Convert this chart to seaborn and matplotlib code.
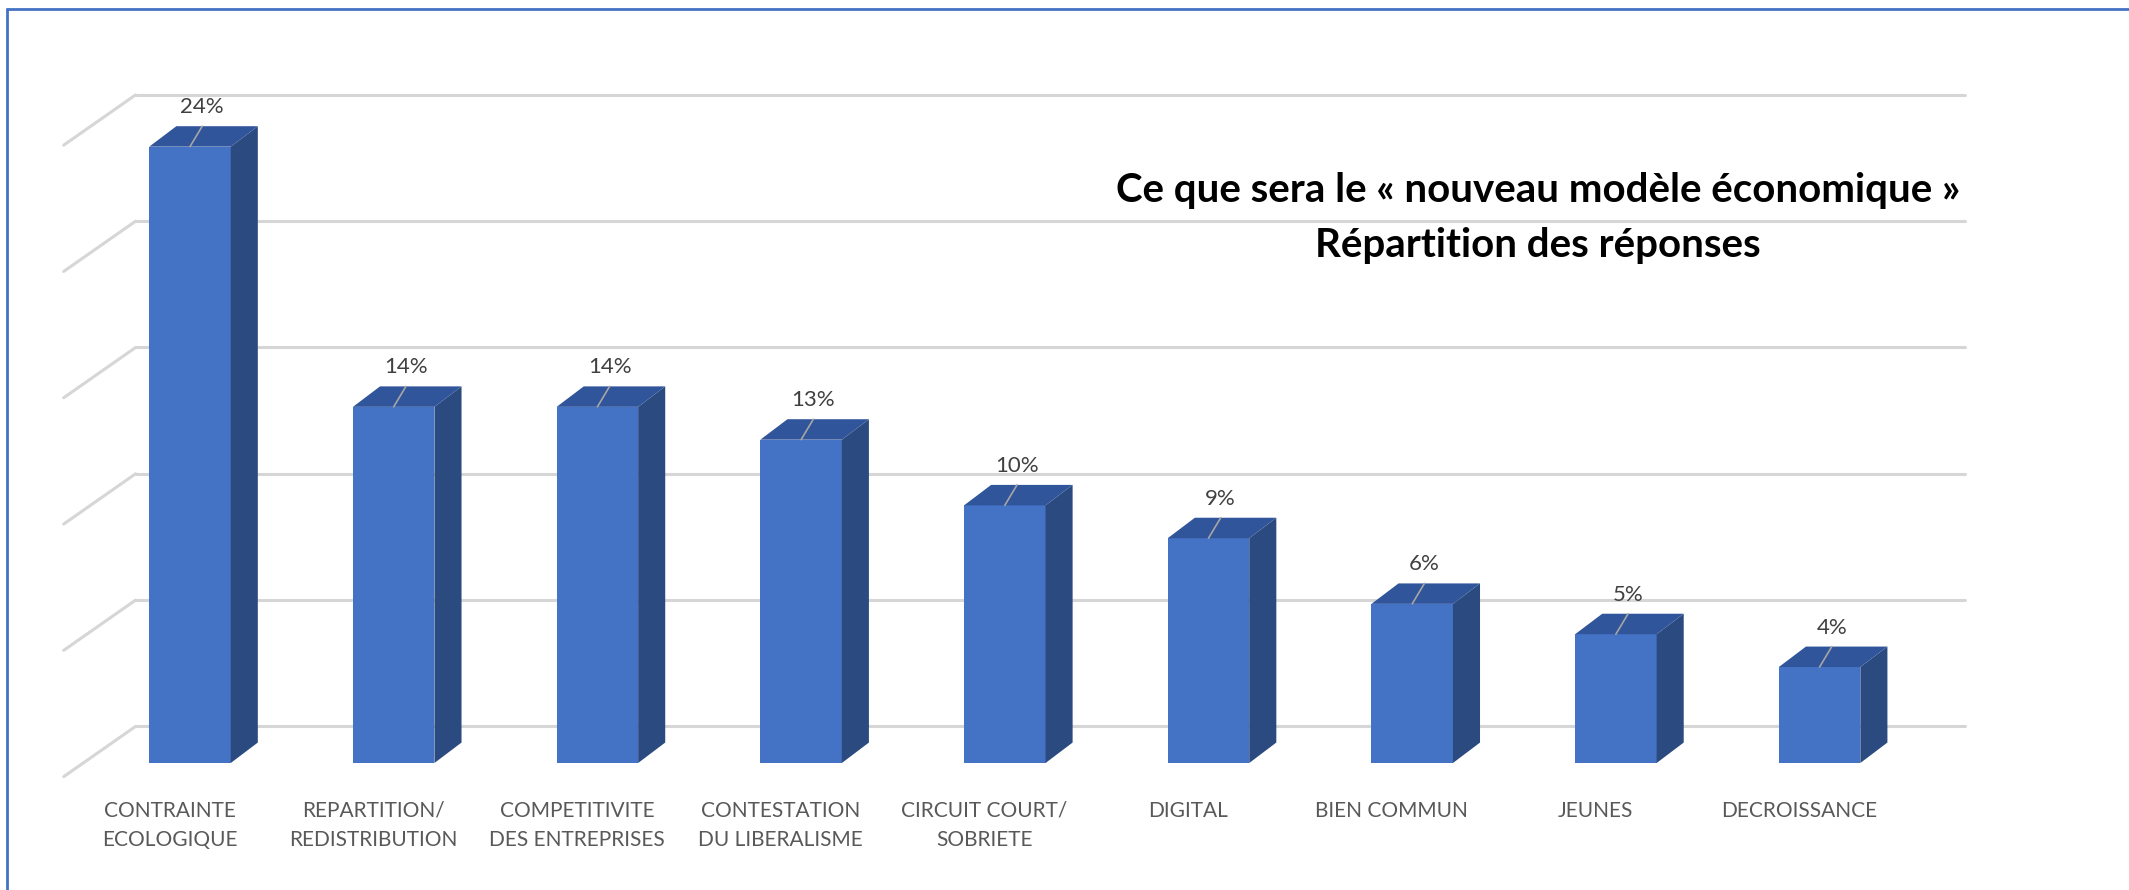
import matplotlib
matplotlib.use("Agg")
import matplotlib.pyplot as plt
from matplotlib.patches import Polygon
from matplotlib.lines import Line2D
import pandas as pd
import seaborn as sns

# data
categories = [
    "CONTRAINTE\nECOLOGIQUE", "REPARTITION/\nREDISTRIBUTION",
    "COMPETITIVITE\nDES ENTREPRISES", "CONTESTATION\nDU LIBERALISME",
    "CIRCUIT COURT/\nSOBRIETE", "DIGITAL", "BIEN COMMUN", "JEUNES", "DECROISSANCE",
]
values = [24.4, 14.1, 14.1, 12.8, 10.2, 8.9, 6.3, 5.1, 3.8]
value_labels = ["24%", "14%", "14%", "13%", "10%", "9%", "6%", "5%", "4%"]
grid_levels = [0, 5, 10, 15, 20, 25]
title_lines = ["Ce que sera le « nouveau modèle économique »", "Répartition des réponses"]

FRONT = "#4472C4"
SIDE = "#2B4A80"
TOP = "#30559A"
GRID = "#D6D6D6"

# fake-3D geometry (category units / percent units)
BAR_W = 0.4
DX, DY = 0.133, 0.81          # bar depth
WALL_X, WALL_DY = -0.267, 1.45  # back wall
FLOOR_X, FLOOR_DY = -0.62, -0.54
WALL_END = 8.713
LABEL_SHIFT = -0.1            # category labels sit on the front edge of the floor

sns.set_theme(style="white")
plt.rcParams["font.family"] = ["Lato", "DejaVu Sans"]

fig = plt.figure(figsize=(21.29, 8.90), dpi=100)
ax = fig.add_axes([0.01748, 0.1143, 0.9233, 0.7947])

df = pd.DataFrame({"cat": categories, "val": values})
sns.barplot(data=df, x="cat", y="val", color=FRONT, saturation=1,
            width=BAR_W, linewidth=0, ax=ax, zorder=3)

# back wall grid with diagonal floor lines
for g in grid_levels:
    ax.plot([FLOOR_X, WALL_X], [g + FLOOR_DY, g + WALL_DY], color=GRID,
            lw=2.2, zorder=1, clip_on=False, solid_capstyle="round")
    ax.plot([WALL_X, WALL_END], [g + WALL_DY, g + WALL_DY], color=GRID,
            lw=2.2, zorder=1, clip_on=False)

# side and top faces + data labels
for i, v in enumerate(values):
    x0, x1 = i - BAR_W / 2, i + BAR_W / 2
    ax.add_patch(Polygon([(x1, 0), (x1 + DX, DY), (x1 + DX, v + DY), (x1, v)],
                         closed=True, facecolor=SIDE, edgecolor="none", zorder=3))
    ax.add_patch(Polygon([(x0, v), (x1, v), (x1 + DX, v + DY), (x0 + DX, v + DY)],
                         closed=True, facecolor=TOP, edgecolor="none", zorder=3))
    ax.plot([i, i + 0.06], [v, v + DY], color="#A6A6A6", lw=1.2, zorder=4)
    ax.text(i + 0.06, v + DY + 0.75, value_labels[i], ha="center", va="center",
            fontsize=16, color="#404040", zorder=5)

ax.set_xticks([i + LABEL_SHIFT for i in range(len(categories))], categories)
ax.set_xlim(-0.75, 8.9)
ax.set_ylim(-1, 27)
ax.set_xlabel("")
ax.set_ylabel("")
ax.set_yticks([])
ax.tick_params(axis="x", length=0, pad=9, labelsize=15, labelcolor="#595959")
for lab in ax.get_xticklabels():
    lab.set_linespacing(1.55)
for s in ax.spines.values():
    s.set_visible(False)
ax.patch.set_alpha(0)

fig.text(0.7224, 0.7854, title_lines[0], ha="center", va="center",
         fontsize=29, fontweight="bold", color="black")
fig.text(0.7224, 0.7236, title_lines[1], ha="center", va="center",
         fontsize=29, fontweight="bold", color="black")

# chart frame (left and top edges visible)
fig.add_artist(Line2D([0.0033, 0.0033], [-0.01, 0.9899], color="#4472C4", lw=2))
fig.add_artist(Line2D([0.0033, 1.01], [0.9899, 0.9899], color="#4472C4", lw=2))

fig.savefig("out.png", dpi=100)
